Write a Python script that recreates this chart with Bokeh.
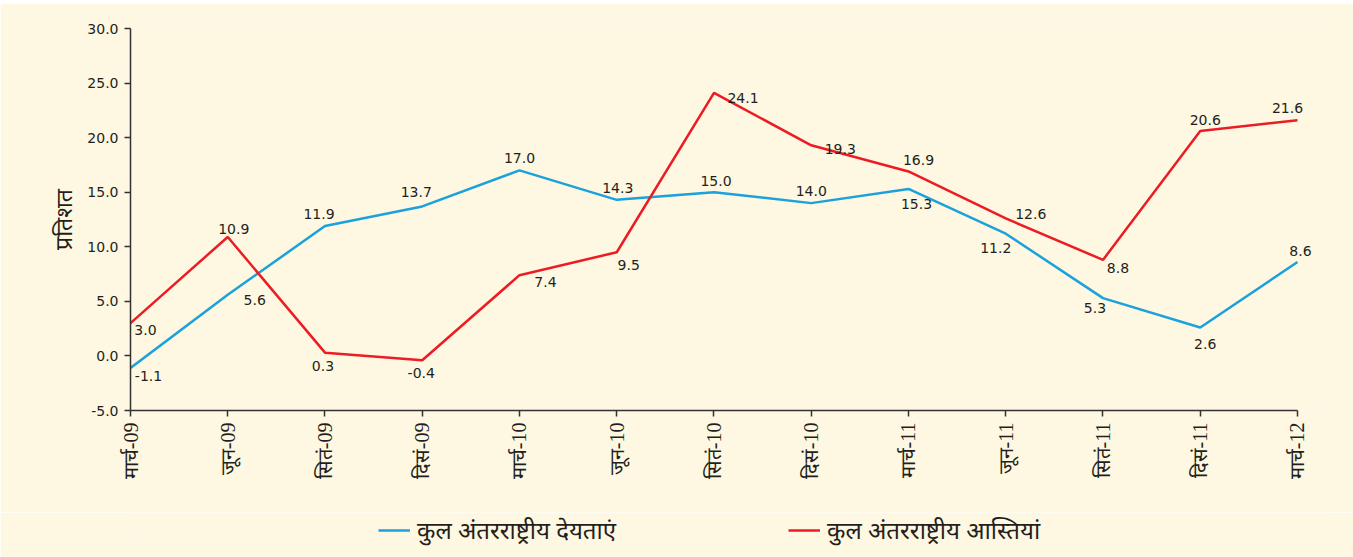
from bokeh.plotting import figure
from bokeh.models import ColumnDataSource, Range1d, FixedTicker, Legend, LegendItem
from bokeh.layouts import column
from bokeh.core.properties import value
from bokeh.embed import file_html
from bokeh.resources import INLINE
import math

quarters = ["मार्च-09", "जून-09", "सितं-09", "दिसं-09", "मार्च-10", "जून-10", "सितं-10",
            "दिसं-10", "मार्च-11", "जून-11", "सितं-11", "दिसं-11", "मार्च-12"]
liabilities = [-1.1, 5.6, 11.9, 13.7, 17.0, 14.3, 15.0, 14.0, 15.3, 11.2, 5.3, 2.6, 8.6]
assets = [3.0, 10.9, 0.3, -0.4, 7.4, 9.5, 24.1, 19.3, 16.9, 12.6, 8.8, 20.6, 21.6]
y_ticks = [-5, 0, 5, 10, 15, 20, 25, 30]
series_names = ["कुल अंतरराष्ट्रीय देयताएं", "कुल अंतरराष्ट्रीय आस्तियां"]
y_label = "प्रतिशत"

# label offsets (pixels) - styling
liab_dx = [18, 27, -6, -6, 0, 1, 2, 0, 8, -10, -8, 5, 3]
liab_dy = [8, 5, -12, -14, -12, -12, -11, -12, 15, 14, 10, 16, -11]
asset_dx = [15, 6, -2, -1, 26, 12, 29, 29, 10, 25, 15, 5, -10]
asset_dy = [7, -8, 13, 13, 7, 13, 5, 4, -11, -4, 8, -11, -12]

BG = "#FEF7E1"
PINK = "#F2DAD8"
BLUE = "#1BA1DC"
RED = "#EC1C24"
DARK = "#231F20"

xs = list(range(len(quarters)))
n_last = len(quarters) - 1

# thin pink strip at the very top
top = figure(width=1353, height=3, output_backend="svg", toolbar_location=None,
             x_axis_type=None, y_axis_type=None,
             min_border_left=0, min_border_right=0, min_border_top=0, min_border_bottom=0)
top.background_fill_color = PINK
top.border_fill_color = PINK
top.outline_line_color = None
top.xgrid.visible = False
top.ygrid.visible = False

p = figure(width=1353, height=509, output_backend="svg", toolbar_location=None,
           x_range=Range1d(0, n_last + 0.288), y_range=Range1d(-5, 30),
           min_border_left=130, min_border_right=28, min_border_top=25, min_border_bottom=102)
p.background_fill_color = BG
p.border_fill_color = BG
p.outline_line_color = None
p.xgrid.visible = False
p.ygrid.visible = False

src = ColumnDataSource(dict(x=xs, liab=liabilities, asset=assets,
                            liab_txt=[f"{v:.1f}" for v in liabilities],
                            asset_txt=[f"{v:.1f}" for v in assets],
                            ldx=liab_dx, ldy=liab_dy, adx=asset_dx, ady=asset_dy))

r1 = p.line("x", "liab", source=src, line_color=BLUE, line_width=2.5)
r2 = p.line("x", "asset", source=src, line_color=RED, line_width=2.5)

p.text("x", "liab", text="liab_txt", source=src, x_offset="ldx", y_offset="ldy",
       text_align="center", text_baseline="middle", text_font=value("DejaVu Sans"),
       text_font_size="14px", text_color=DARK)
p.text("x", "asset", text="asset_txt", source=src, x_offset="adx", y_offset="ady",
       text_align="center", text_baseline="middle", text_font=value("DejaVu Sans"),
       text_font_size="14px", text_color=DARK)

# axes
p.yaxis.ticker = FixedTicker(ticks=y_ticks)
p.yaxis.major_label_overrides = {t: f"{t:.1f}" for t in y_ticks}
p.yaxis.major_label_text_font = "DejaVu Sans"
p.yaxis.major_label_text_font_size = "14px"
p.yaxis.major_label_text_color = DARK
p.yaxis.axis_label = y_label
p.yaxis.axis_label_text_font = "Noto Sans"
p.yaxis.axis_label_text_font_style = "normal"
p.yaxis.axis_label_text_font_size = "23px"
p.yaxis.axis_label_text_color = DARK
p.yaxis.axis_label_standoff = 5

p.xaxis.ticker = FixedTicker(ticks=xs)
p.xaxis.bounds = (0, n_last)
p.xaxis.major_label_overrides = {i: q for i, q in enumerate(quarters)}
p.xaxis.major_label_orientation = math.pi / 2
p.xaxis.major_label_text_font = "Liberation Serif"
p.xaxis.major_label_text_font_size = "20px"
p.xaxis.major_label_text_color = DARK

for ax in (p.xaxis, p.yaxis):
    ax.axis_line_color = "#333333"
    ax.axis_line_width = 1.5
    ax.major_tick_line_color = "#333333"
    ax.major_tick_line_width = 1.5
    ax.major_tick_in = 0
    ax.major_tick_out = 6
    ax.minor_tick_line_color = None
    ax.major_label_standoff = 6

# legend strip below the chart
lf = figure(width=1353, height=45, output_backend="svg", toolbar_location=None,
            x_range=Range1d(0, 1), y_range=Range1d(0, 1),
            x_axis_type=None, y_axis_type=None,
            min_border_left=0, min_border_right=0, min_border_top=0, min_border_bottom=0)
lf.background_fill_color = BG
lf.border_fill_color = BG
lf.outline_line_color = None
lf.xgrid.visible = False
lf.ygrid.visible = False
nan = float("nan")
g1 = lf.line(x=[nan, nan], y=[nan, nan], line_color=BLUE, line_width=2.5)
g2 = lf.line(x=[nan, nan], y=[nan, nan], line_color=RED, line_width=2.5)

legend = Legend(items=[LegendItem(label=series_names[0], renderers=[g1]),
                       LegendItem(label=series_names[1], renderers=[g2])],
                orientation="horizontal", location=(248, 11),
                background_fill_alpha=0, border_line_color=None,
                label_text_font="Noto Sans", label_text_font_size="24px",
                label_text_color=DARK, glyph_width=32, spacing=172,
                padding=5, margin=0, label_standoff=7)
lf.add_layout(legend, "center")

layout = column(top, p, lf, spacing=0)
open("out.html", "w").write(file_html(layout, INLINE))
